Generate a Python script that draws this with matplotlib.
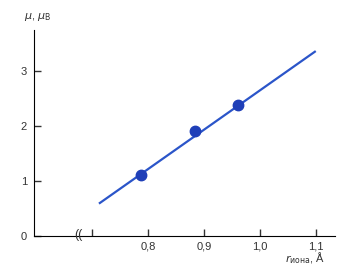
import matplotlib
matplotlib.use("Agg")
import matplotlib.pyplot as plt

plt.rcParams['font.family'] = ['Liberation Sans', 'DejaVu Sans']

# fitted line and measured points
line_x = [0.714, 1.098]
line_y = [0.60, 3.35]
pts_x = [0.787, 0.884, 0.961]
pts_y = [1.11, 1.90, 2.38]
xticks = [0.7, 0.8, 0.9, 1.0, 1.1]
xtick_labels = ['', '0,8', '0,9', '1,0', '1,1']
yticks = [0, 1, 2, 3]

fig = plt.figure(figsize=(3.64, 2.76), dpi=100)
ax = fig.add_axes([34/364, 40/276, 301/364, 206/276])

ax.plot(line_x, line_y, color='#2b55c9', lw=1.6, zorder=2)
ax.plot(pts_x, pts_y, 'o', color='#1f3fb8', ms=7.5, zorder=3)

ax.set_xlim(0.5964, 1.134)
ax.set_ylim(0, 3.745)
ax.set_xticks(xticks)
ax.set_xticklabels(xtick_labels)
ax.set_yticks(yticks)
for s in ['top', 'right']:
    ax.spines[s].set_visible(False)
ax.tick_params(direction='in', length=5, width=1, labelsize=8, colors='#333333', pad=4)
ax.tick_params(axis='y', pad=5)

# axis break mark
ax.text(0.675, 0.02, '((', ha='center', va='center', fontsize=9, color='#333333',
        clip_on=False)

fig.text(24/364, 1 - 17/276, r'$\mu$, $\mu_{\rm B}$', fontsize=8, color='#333333',
         va='center', ha='left')
fig.text(285/364, 1 - 258/276, r'$r_{\mathrm{иона}}$, Å', fontsize=8, color='#333333',
         va='center', ha='left')

fig.savefig('out.png', dpi=100)
